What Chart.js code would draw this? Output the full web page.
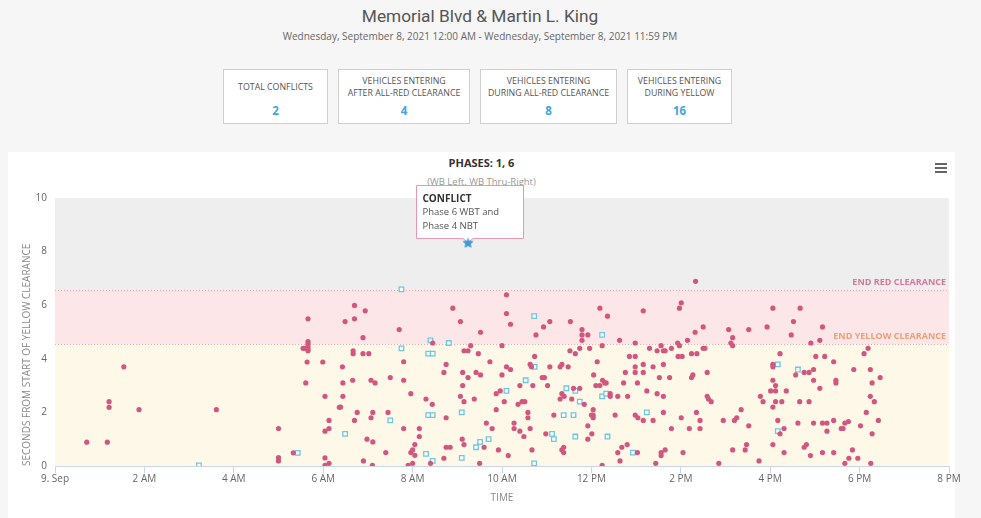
<!DOCTYPE html>
<html>
<head>
<meta charset="utf-8">
<script src="https://cdn.jsdelivr.net/npm/chart.js@4.4.1/dist/chart.umd.min.js"></script>
<style>
  html, body { margin: 0; padding: 0; }
  body { width: 981px; height: 518px; background: #f6f6f6; font-family: "Open Sans", sans-serif; position: relative; overflow: hidden; }
  #title { position: absolute; left: 0; width: 960px; top: 5px; text-align: center; font-family: Roboto, sans-serif; font-size: 17.3px; line-height: 22px; color: #555; }
  #range { position: absolute; left: 0; width: 960px; top: 30px; text-align: center; font-size: 10px; line-height: 13px; color: #666; }
  .stat { position: absolute; top: 69px; height: 55px; box-sizing: border-box; border: 1px solid #cfcfcf; background: #fff; }
  .stat .lab { position: absolute; left: 0; right: 0; top: 18px; transform: translateY(-50%); text-align: center; font-size: 8.8px; line-height: 11.8px; color: #555; }
  .stat .num { position: absolute; left: 0; right: 0; top: 40.5px; transform: translateY(-50%); text-align: center; font-size: 11.5px; line-height: 14px; font-weight: bold; color: #3ea6dd; }
  #card { position: absolute; left: 8px; top: 152px; width: 947px; height: 370px; background: #fff; }
  #phases { position: absolute; left: 8px; width: 947px; top: 156px; text-align: center; font-size: 11px; line-height: 14px; font-weight: bold; color: #333; }
  #approach { position: absolute; left: 8px; width: 947px; top: 175px; text-align: center; font-size: 9.5px; line-height: 13px; color: #999; }
  #menu { position: absolute; left: 935px; top: 163px; width: 12px; }
  #menu span { display: block; height: 2px; background: #666; margin-bottom: 2px; }
  #chart { position: absolute; left: 0; top: 152px; }
</style>
</head>
<body>
<div id="title">Memorial Blvd &amp; Martin L. King</div>
<div id="range">Wednesday, September 8, 2021 12:00 AM - Wednesday, September 8, 2021 11:59 PM</div>
<div id="stats"></div>
<div id="card"></div>
<div id="phases">PHASES: 1, 6</div>
<div id="approach">(WB Left, WB Thru-Right)</div>
<div id="menu"><span></span><span></span><span></span></div>
<canvas id="chart" width="981" height="366"></canvas>
<script>
// summary boxes
const statLabels = ['TOTAL CONFLICTS', 'VEHICLES ENTERING<br>AFTER ALL-RED CLEARANCE', 'VEHICLES ENTERING<br>DURING ALL-RED CLEARANCE', 'VEHICLES ENTERING<br>DURING YELLOW'];
const statValues = [2, 4, 8, 16];

// x axis: hours since midnight
const xTickHours = [0, 2, 4, 6, 8, 10, 12, 14, 16, 18, 20];
const xTickLabels = ['9. Sep', '2 AM', '4 AM', '6 AM', '8 AM', '10 AM', '12 PM', '2 PM', '4 PM', '6 PM', '8 PM'];
const yellowClearanceEnd = 4.55;
const redClearanceEnd = 6.57;

// [hour, seconds from start of yellow]
const enteringPoints = [
  [0.71,0.89],[1.17,0.89],[1.21,2.40],[1.21,2.19],[1.54,3.70],[1.88,2.10],[3.61,2.10],
  [5.00,1.40],[5.00,0.31],[5.00,0.19],[5.33,0.49],[5.61,3.10],[5.64,3.88],[5.99,3.88],
  [5.66,4.64],[5.66,4.55],[5.66,4.45],[5.66,4.36],[5.66,4.30],[5.55,4.39],[5.60,4.39],
  [6.04,2.60],[6.13,1.70],[6.04,1.30],[6.13,1.40],[6.36,2.19],[6.04,0.30],[6.04,0.02],[6.13,0.10],
  [6.90,0.19],[7.10,0.02],[7.90,0.02],[8.00,0.10],[8.05,0.40],[8.40,0.10],[8.70,0.29],[9.50,0.10],
  [10.14,0.39],[12.24,0.02],[12.64,0.19],[13.44,0.10],[13.56,0.39],[14.85,0.10],[15.75,0.19],
  [16.90,0.39],[17.67,0.10],[17.76,0.29],[17.96,0.29],[18.25,0.10],
  [10.10,6.39],[6.70,5.99],[8.90,5.89],[6.94,5.79],[10.10,5.69],[5.66,5.49],[6.70,5.49],[6.49,5.39],
  [9.07,5.39],[10.19,5.29],[7.70,5.09],[9.52,4.99],[6.89,4.79],[8.45,4.59],[9.30,4.49],[10.00,4.49],
  [6.67,4.30],[6.67,4.19],[6.89,4.19],[7.02,4.19],[9.15,4.30],[9.24,4.30],[9.47,4.19],
  [7.80,3.89],[9.73,3.89],[8.75,3.79],[6.43,3.70],[10.10,3.70],[10.19,3.60],[8.70,3.49],[9.12,3.49],
  [9.42,3.49],[9.52,3.40],[10.00,3.40],[9.24,3.30],[7.50,3.30],[6.66,3.20],[7.07,3.20],[7.16,3.10],
  [7.80,3.20],[6.44,3.10],[9.12,3.00],[10.40,3.00],[9.96,2.80],[9.87,2.70],[7.96,2.70],[6.44,2.60],
  [9.07,2.60],[8.30,2.50],[9.38,2.50],[9.15,2.40],[10.05,2.40],[8.44,2.30],[10.36,2.30],[10.45,2.40],
  [10.51,2.40],[6.39,2.20],[9.87,2.10],[6.76,2.00],[7.11,2.00],[7.45,2.00],[10.58,2.00],[10.58,1.80],
  [7.07,1.80],[8.75,1.80],[6.70,1.70],[9.65,1.60],[10.27,1.60],[7.80,1.40],[8.15,1.40],[9.78,1.40],
  [10.27,1.40],[10.40,1.30],[8.15,1.10],[10.49,1.10],[6.98,1.00],[7.11,0.90],[9.11,1.00],[9.15,0.80],
  [8.05,0.80],[8.75,0.70],[8.84,0.70],[9.60,0.70],[9.92,0.60],[8.00,0.60],[7.96,0.50],[7.40,0.50],
  [14.33,6.89],[14.01,6.09],[13.97,5.89],[12.19,5.89],[13.16,5.79],[12.36,5.59],[11.07,5.39],[10.93,5.19],
  [11.53,5.39],[14.50,5.19],[15.07,5.09],[15.16,4.79],[15.12,4.59],[15.16,4.49],[15.52,5.09],[11.79,5.09],
  [11.79,4.89],[11.92,4.89],[11.79,4.69],[10.76,4.89],[14.32,4.99],[12.63,4.69],[12.98,4.59],[13.93,4.59],
  [13.97,4.49],[14.15,4.69],[12.24,4.49],[13.56,4.49],[13.30,4.39],[13.47,4.30],[13.61,4.30],[13.65,4.30],
  [13.79,4.39],[14.50,4.39],[14.54,4.39],[11.52,4.30],[11.64,4.19],[11.74,4.39],[11.96,4.39],[14.24,4.19],
  [14.36,4.19],[13.94,4.09],[14.03,4.09],[12.85,4.09],[12.98,4.09],[10.73,4.09],
  [12.13,3.89],[10.63,3.79],[10.66,3.70],[11.07,3.70],[11.30,3.70],[11.34,3.79],[11.48,3.70],[12.98,3.70],
  [13.16,3.79],[13.38,3.70],[13.61,3.79],[12.76,3.49],[12.98,3.49],[13.16,3.49],[14.59,3.49],[12.05,3.40],
  [14.24,3.30],[14.27,3.40],[10.90,3.30],[10.95,3.30],[13.52,3.30],[13.75,3.30],[12.25,3.20],[12.30,3.10],
  [12.33,3.10],[12.72,3.10],[13.03,3.10],[10.69,3.00],[11.02,3.00],[12.10,3.00],[12.19,3.00],[11.60,2.90],
  [11.74,2.90],[13.24,2.80],[11.34,2.70],[11.39,2.60],[11.30,2.50],[12.42,2.60],[12.42,2.70],[12.59,2.60],
  [12.81,2.60],[13.47,2.70],[13.61,2.60],[14.59,2.60],[14.62,2.50],[14.68,2.40],[11.56,2.50],[11.84,2.30],
  [15.35,2.10],[12.04,2.10],[12.04,1.90],[12.00,1.90],[12.04,1.80],[11.16,1.90],[12.53,1.90],[12.98,1.90],
  [13.04,1.80],[13.16,1.70],[13.61,2.00],[14.35,2.00],[14.01,1.80],[13.38,1.70],[14.43,1.70],[14.95,1.70],
  [15.20,1.70],[15.25,1.80],[11.92,1.50],[10.63,1.40],[13.79,1.40],[14.19,1.40],[14.43,1.40],[15.52,1.50],
  [10.98,1.20],[12.01,1.20],[11.92,1.00],[15.47,0.80],[15.44,0.60],[12.80,0.80],[12.68,0.70],[11.38,0.70],
  [11.34,0.60],[11.38,0.50],[10.67,0.60],[13.65,0.60],[13.56,0.50],[14.05,0.50],[15.16,0.60],[12.59,0.50],
  [13.03,0.50],
  [16.06,5.89],[16.67,5.89],[16.52,5.39],[15.93,5.19],[17.17,5.19],[16.47,4.89],[16.91,4.59],[17.11,4.69],
  [18.19,4.39],[18.10,4.19],[16.22,4.19],[17.02,4.09],[17.22,4.09],[17.42,3.89],[16.06,3.79],[16.06,3.70],
  [16.57,3.40],[16.76,3.49],[16.87,3.49],[16.97,3.60],[17.87,3.60],[18.24,3.60],[18.46,3.30],[16.06,3.20],
  [16.97,3.20],[17.47,3.20],[17.47,3.10],[18.28,3.10],[16.12,3.00],[17.11,2.90],[16.01,2.80],[16.12,2.80],
  [16.36,2.80],[15.78,2.60],[18.24,2.60],[15.84,2.40],[16.12,2.40],[16.26,2.40],[16.66,2.40],[16.87,2.40],
  [18.33,2.40],[16.06,2.20],[18.15,2.00],[16.17,1.70],[16.62,1.60],[16.97,1.60],[17.17,1.60],[17.27,1.60],
  [17.42,1.70],[17.59,1.40],[17.63,1.40],[17.67,1.60],[17.75,1.66],[18.02,1.50],[18.42,1.70],[16.22,1.20],
  [16.31,1.40],[17.27,1.30],[18.28,1.20],[16.06,0.80],[16.76,0.70],[16.81,0.80],[16.31,0.50],[17.17,0.50],
  [17.42,0.50],[17.84,0.60]
];

const clearancePoints = [
  [3.22,0.02],[5.43,0.49],[7.75,6.59],[8.40,4.69],[8.81,4.59],[7.75,4.39],[8.35,4.19],[8.45,4.19],
  [10.53,3.20],[10.10,2.80],[9.10,2.00],[8.35,1.90],[8.45,1.90],[7.50,1.70],[6.49,1.20],[9.51,0.90],
  [9.42,0.70],[9.70,1.00],[8.30,0.45],[9.10,0.30],[8.45,0.19],[10.72,0.10],[10.72,5.59],[12.24,4.89],
  [10.73,3.70],[11.44,2.90],[11.64,2.80],[12.24,2.60],[12.33,2.70],[11.74,2.40],[11.38,1.90],[11.60,1.90],
  [13.24,2.00],[11.12,1.20],[11.16,1.00],[11.64,1.10],[12.36,1.10],[12.93,0.50],[16.17,3.79],[16.62,3.60],
  [16.17,1.30]
];

const conflictPoints = [[9.24, 8.32]];
const tipTitle = 'CONFLICT';
const tipLines = ['Phase 6 WBT and', 'Phase 4 NBT'];

// summary boxes
const statLefts = [223, 338, 480, 627];
const statWidths = [105, 132, 137, 105];
const statsEl = document.getElementById('stats');
statLabels.forEach((lab, i) => {
  const d = document.createElement('div');
  d.className = 'stat';
  d.style.left = statLefts[i] + 'px';
  d.style.width = statWidths[i] + 'px';
  d.innerHTML = '<div class="lab">' + lab + '</div><div class="num">' + statValues[i] + '</div>';
  statsEl.appendChild(d);
});

function makeStar(r, color) {
  const c = document.createElement('canvas');
  c.width = c.height = r * 2 + 2;
  const g = c.getContext('2d');
  g.fillStyle = color;
  g.beginPath();
  for (let i = 0; i < 10; i++) {
    const ang = -Math.PI / 2 + i * Math.PI / 5;
    const rad = i % 2 ? r * 0.45 : r;
    g.lineTo(r + 1 + rad * Math.cos(ang), r + 1 + rad * Math.sin(ang));
  }
  g.closePath();
  g.fill();
  return c;
}

const bandPlugin = {
  id: 'bands',
  beforeDraw(chart) {
    const { ctx, chartArea: a, scales: { y } } = chart;
    const yTop = y.getPixelForValue(10);
    const yRed = y.getPixelForValue(redClearanceEnd);
    const yYel = y.getPixelForValue(yellowClearanceEnd);
    const yZero = y.getPixelForValue(0);
    ctx.save();
    ctx.fillStyle = '#eeeeee';
    ctx.fillRect(a.left, yTop, a.width, yRed - yTop);
    ctx.fillStyle = '#fce6e7';
    ctx.fillRect(a.left, yRed, a.width, yYel - yRed);
    ctx.fillStyle = '#fdf8e7';
    ctx.fillRect(a.left, yYel, a.width, yZero - yYel);
    ctx.strokeStyle = '#e3a9b6';
    ctx.lineWidth = 1;
    ctx.setLineDash([1, 2]);
    [yRed, yYel].forEach(py => {
      ctx.beginPath();
      ctx.moveTo(a.left, Math.round(py) + 0.5);
      ctx.lineTo(a.right, Math.round(py) + 0.5);
      ctx.stroke();
    });
    ctx.setLineDash([]);
    ctx.font = 'bold 9px "Open Sans"';
    ctx.textAlign = 'right';
    ctx.textBaseline = 'middle';
    ctx.fillStyle = '#d6789a';
    ctx.fillText('END RED CLEARANCE', a.right - 3, yRed - 7.5);
    ctx.fillStyle = '#e9a078';
    ctx.fillText('END YELLOW CLEARANCE', a.right - 3, yYel - 8);
    ctx.restore();
  }
};

const conflictTip = {
  id: 'conflictTip',
  afterDraw(chart) {
    const { ctx } = chart;
    const pt = chart.getDatasetMeta(2).data[0];
    const x = Math.round(pt.x), y = Math.round(pt.y);
    const left = x - 52 + 0.5, top = y - 58 + 0.5, w = 107, h = 53;
    ctx.save();
    ctx.beginPath();
    ctx.moveTo(left, top);
    ctx.lineTo(left + w, top);
    ctx.lineTo(left + w, top + h);
    ctx.lineTo(x + 5, top + h);
    ctx.lineTo(x, top + h + 4);
    ctx.lineTo(x - 5, top + h);
    ctx.lineTo(left, top + h);
    ctx.closePath();
    ctx.fillStyle = 'rgba(255,255,255,0.97)';
    ctx.fill();
    ctx.strokeStyle = '#e599b0';
    ctx.lineWidth = 1;
    ctx.stroke();
    ctx.textAlign = 'left';
    ctx.textBaseline = 'middle';
    ctx.fillStyle = '#333';
    ctx.font = 'bold 10px "Open Sans"';
    ctx.fillText(tipTitle, left + 6, top + 13.5);
    ctx.fillStyle = '#555';
    ctx.font = '9.5px "Open Sans"';
    tipLines.forEach((t, i) => ctx.fillText(t, left + 6, top + 27 + i * 13.5));
    ctx.restore();
    // keep the conflict marker above the tooltip pointer
    pt.draw(ctx, chart.chartArea);
  }
};

const toXY = pts => pts.map(([x, y]) => ({ x, y }));
const axisFont = { family: 'Open Sans', size: 10 };

new Chart(document.getElementById('chart'), {
  type: 'scatter',
  data: {
    datasets: [
      { label: 'Entering', data: toXY(enteringPoints), pointStyle: 'circle', pointRadius: 2.6, backgroundColor: '#d2577e', borderWidth: 0 },
      { label: 'Clearance', data: toXY(clearancePoints), pointStyle: 'rect', pointRadius: 3.2, backgroundColor: '#ffffff', borderColor: '#6fc6e0', borderWidth: 1.3 },
      { label: 'Conflict', data: toXY(conflictPoints), pointStyle: makeStar(5.5, '#3d9bdc'), pointRadius: 6 }
    ]
  },
  options: {
    responsive: false,
    animation: false,
    events: [],
    layout: { padding: { top: 46, right: 32, left: 0, bottom: 0 } },
    plugins: { legend: { display: false }, tooltip: { enabled: false } },
    scales: {
      x: {
        type: 'linear', min: 0, max: 20,
        afterBuildTicks: s => { s.ticks = xTickHours.map(v => ({ value: v })); },
        afterFit: s => { s.height = 52; },
        ticks: { callback: (v, i) => xTickLabels[i], color: '#666', font: axisFont, padding: 0, maxRotation: 0, autoSkip: false },
        grid: { drawOnChartArea: false, drawTicks: true, tickLength: 7, color: '#ccd6eb' },
        border: { color: '#ccd6eb' },
        title: { display: true, text: 'TIME', color: '#888', font: axisFont, padding: { top: 0, bottom: 14 } }
      },
      y: {
        min: 0, max: 10,
        afterFit: s => { s.width = 55; },
        ticks: { stepSize: 2, color: '#666', font: axisFont, padding: 8 },
        grid: { display: false, drawTicks: false },
        border: { display: false },
        title: { display: true, text: 'SECONDS FROM START OF YELLOW CLEARANCE', align: 'start', color: '#888', font: { family: 'Open Sans', size: 10 }, padding: { top: 21, bottom: 0 } }
      }
    }
  },
  plugins: [bandPlugin, conflictTip]
});
</script>
</body>
</html>
